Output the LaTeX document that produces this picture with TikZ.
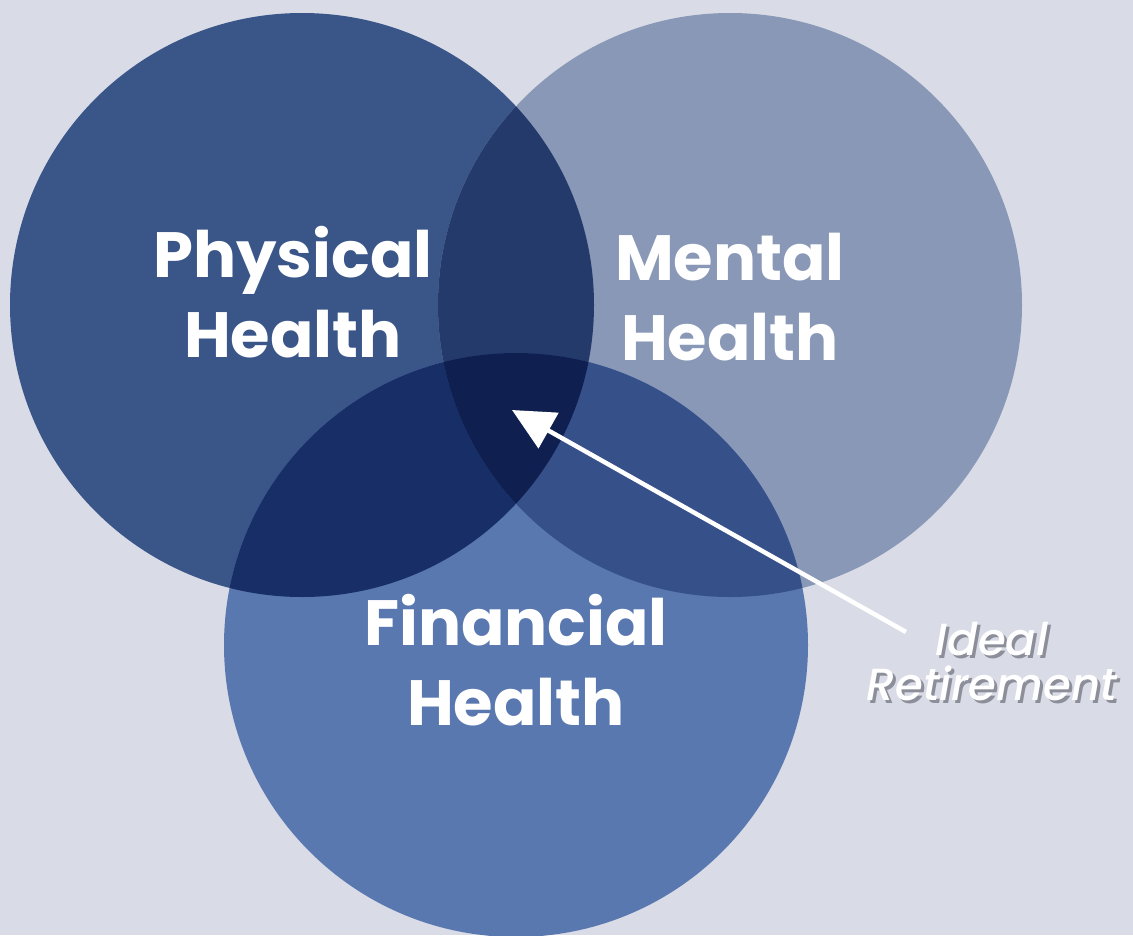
\documentclass[tikz,border=0pt]{standalone}
\usepackage{fontspec}
\setmainfont{Poppins}
\newfontfamily\notefont{Poppins}[UprightFont=* Medium, ItalicFont=* Medium Italic]
\usetikzlibrary{arrows.meta}
\definecolor{bgcol}{HTML}{D9DCE6}
\definecolor{physcol}{HTML}{3A5689}
\definecolor{mentcol}{HTML}{8898B6}
\definecolor{fincol}{HTML}{5A78B0}
\definecolor{pmcol}{HTML}{233A6B}
\definecolor{pfcol}{HTML}{172E66}
\definecolor{mfcol}{HTML}{36508A}
\definecolor{allcol}{HTML}{0F1F50}
\definecolor{shadowcol}{HTML}{8C8F99}
\tikzset{
  biglabel/.style={text=white, font=\fontsize{64}{80}\selectfont\bfseries, align=center},
  smalllabel/.style={font=\notefont\fontsize{45}{45}\selectfont\itshape, align=center},
}
\begin{document}
\begin{tikzpicture}[x=1pt,y=-1pt]
  \fill[bgcol] (0,0) rectangle (1133,935);
  \useasboundingbox (0,0) rectangle (1133,935);
  \def\rad{292}
  \coordinate (phys) at (302,305);
  \coordinate (ment) at (730,305);
  \coordinate (fin) at (516,645);
  % base discs
  \fill[physcol] (phys) circle (\rad);
  \fill[mentcol] (ment) circle (\rad);
  \fill[fincol] (fin) circle (\rad);
  % pairwise overlaps
  \begin{scope}
    \clip (phys) circle (\rad);
    \fill[pmcol] (ment) circle (\rad);
    \fill[pfcol] (fin) circle (\rad);
  \end{scope}
  \begin{scope}
    \clip (ment) circle (\rad);
    \fill[mfcol] (fin) circle (\rad);
  \end{scope}
  % centre where all three meet
  \begin{scope}
    \clip (phys) circle (\rad);
    \clip (ment) circle (\rad);
    \fill[allcol] (fin) circle (\rad);
  \end{scope}
  % labels
  \node[biglabel] (physlabel) at (293,292) {Physical\\Health};
  \node[biglabel] (mentlabel) at (730,297) {Mental\\Health};
  \node[biglabel] (finlabel) at (516,660) {Financial\\Health};
  \node[smalllabel, text=shadowcol] (idealshadow) at (995,665) {Ideal\\Retirement};
  \node[smalllabel, text=white] (ideal) at (992,662) {Ideal\\Retirement};
  % pointer to the centre
  \coordinate (tip) at (512,410);
  \coordinate (tail) at (906,632);
  \draw[white, line width=4.5pt, -{Triangle[length=42pt,width=40pt]}] (tail) -- (tip);
\end{tikzpicture}
\end{document}
